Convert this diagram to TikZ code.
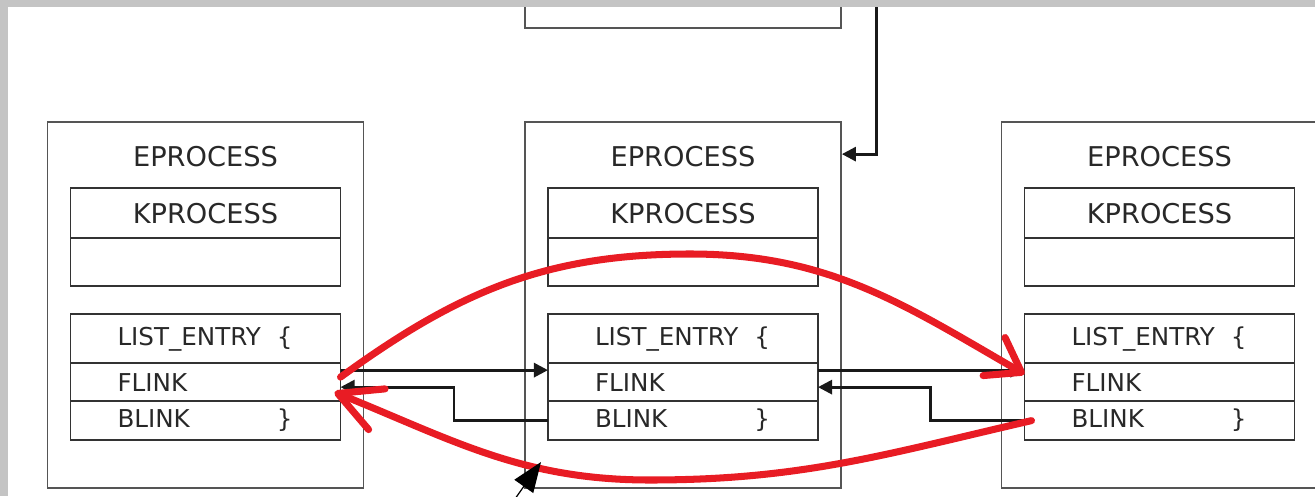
\documentclass[tikz,border=0pt]{standalone}
\usepackage{fontspec}
\setmainfont{DejaVu Sans}
\usetikzlibrary{arrows.meta, positioning, calc}
\definecolor{inkred}{RGB}{232, 28, 36}
\definecolor{boxgray}{RGB}{85, 85, 85}
\definecolor{txtgray}{RGB}{40, 40, 40}
\definecolor{bandgray}{RGB}{196, 196, 196}
\tikzset{
    proc/.style ={draw=boxgray, line width=1pt, minimum width=6.32cm,
                  minimum height=7.32cm, inner sep=0pt},
    ttl/.style  ={text=txtgray, font=\fontsize{15.5}{18}\selectfont, inner sep=0pt},
    cell/.style ={draw=black!80, line width=1pt, minimum width=5.4cm, inner sep=0pt,
                  outer sep=0pt, text=txtgray, font=\fontsize{15.5}{18}\selectfont},
    fld/.style  ={cell, font=\fontsize{14}{16}\selectfont},
    link/.style ={-{Triangle[length=8pt, width=8pt]}, line width=1.6pt, draw=black!90},
    hand/.style ={line width=4pt, draw=inkred, line cap=round},
    ptr/.style  ={-{Triangle[length=17pt, width=13pt]}, line width=0.7pt}
}
\newcommand{\fieldrow}[2]{\makebox[5.4cm][l]{\hspace{0.94cm}#1\hfill#2\hspace{0.96cm}}}

\begin{document}
\begin{tikzpicture}
  \useasboundingbox (0,0) rectangle (26.3,9.92);
  \clip (0,0) rectangle (26.3,9.92);

  % ---- the three process blocks
  \foreach \p/\x in {pa/4.11, pb/13.66, pc/23.19}{
    \node[proc] (\p) at (\x, 3.82) {};
    \node[ttl] (\p-t) at ([yshift=-0.7cm]\p.north) {EPROCESS};
    \node[cell, minimum height=1cm, anchor=north] (\p-k) at ([yshift=-1.34cm]\p.north) {KPROCESS};
    \node[cell, minimum height=0.96cm, below=0pt of \p-k] (\p-ke) {};
    \node[fld, minimum height=0.98cm, below=0.56cm of \p-ke] (\p-le) {\fieldrow{LIST\_ENTRY}{\{}};
    \node[fld, minimum height=0.76cm, below=0pt of \p-le] (\p-f) {\fieldrow{FLINK}{}};
    \node[fld, minimum height=0.78cm, below=0pt of \p-f] (\p-b) {\fieldrow{BLINK}{\}}};
  }

  % ---- block above, only its lower edge shows
  \node[proc, minimum height=1cm, above=1.84cm of pb] (top) {};

  % ---- list head pointer
  \coordinate (feed) at ($(pb.east |- top.north)+(0.7,0)$);
  \draw[link] (feed) |- ([yshift=-0.66cm]pb.north east);

  % ---- flink / blink links
  \foreach \u/\v in {pa/pb, pb/pc}{
    \draw[link] ([yshift=0.24cm]\u-f.east) -- ([yshift=0.24cm]\v-f.west);
    \draw[link] (\v-b.west) -- ++(-1.88,0) |- ([yshift=-0.1cm]\u-f.east);
  }

  % ---- unlinking the middle entry
  \coordinate (fl-peak) at (13.8, 4.84);
  \coordinate (bl-dip) at (13.0, 0.32);
  \draw[hand, -{Straight Barb[length=18pt, width=25pt, round]}]
       ([yshift=0.1cm]pa-f.east) to[out=36, in=180] (fl-peak)
       to[out=0, in=150] ([yshift=0.16cm]pc-f.west);
  \draw[hand, -{Straight Barb[length=24pt, width=25pt, round]}]
       ([xshift=0.14cm]pc-b.west) to[out=193, in=0] (bl-dip)
       to[out=180, in=-22] ([shift={(-0.12cm,-0.2cm)}]pa-f.east);

  % ---- pointer
  \coordinate (ptr-tail) at (10.2, -0.2);
  \coordinate (ptr-tip) at (10.82, 0.68);
  \draw[ptr] (ptr-tail) -- (ptr-tip);

  % ---- grey edge
  \fill[bandgray] (0,9.78) rectangle (26.3,9.92);
  \fill[bandgray] (0,0) rectangle (0.16,9.92);
\end{tikzpicture}
\end{document}
